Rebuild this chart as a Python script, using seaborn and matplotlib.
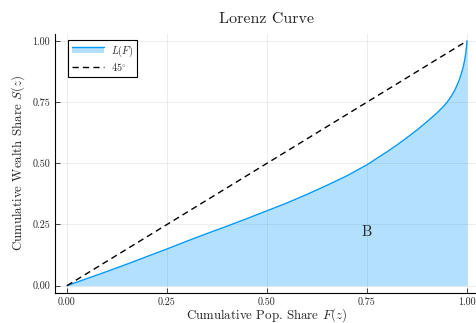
import numpy as np
import pandas as pd
import matplotlib
matplotlib.use("Agg")
import matplotlib.pyplot as plt
import seaborn as sns
from matplotlib.patches import Rectangle
from matplotlib.lines import Line2D
from matplotlib.legend_handler import HandlerBase

# Cumulative population share F(z) and cumulative wealth share S(z)
pop_share = [0.0, 0.05, 0.10, 0.15, 0.20, 0.25, 0.30, 0.35, 0.40, 0.45, 0.50,
             0.55, 0.60, 0.65, 0.70, 0.75, 0.80, 0.825, 0.85, 0.875, 0.90,
             0.925, 0.94, 0.95, 0.96, 0.97, 0.98, 0.985, 0.99, 0.994, 0.997,
             0.999, 1.0]
wealth_share = [0.0, 0.029, 0.058, 0.088, 0.119, 0.150, 0.182, 0.213, 0.243,
                0.274, 0.306, 0.338, 0.373, 0.410, 0.449, 0.494, 0.547, 0.575,
                0.605, 0.636, 0.670, 0.706, 0.730, 0.749, 0.772, 0.800, 0.838,
                0.862, 0.890, 0.920, 0.950, 0.980, 1.0]
diag = [0.0, 1.0]
tick_vals = [0.0, 0.25, 0.50, 0.75, 1.0]
tick_labels = ["0.00", "0.25", "0.50", "0.75", "1.00"]

sns.set_style("white")
plt.rcParams["font.family"] = ["cmr10", "DejaVu Serif"]
plt.rcParams["mathtext.fontset"] = "cm"
plt.rcParams["axes.formatter.use_mathtext"] = True

blue = "#009AFA"
df = pd.DataFrame({"F": pop_share, "S": wealth_share})
dd = pd.DataFrame({"F": diag, "S": diag})

fig = plt.figure(figsize=(4.77, 3.23), dpi=100)
ax = fig.add_axes([55 / 477, (323 - 293.0) / 323, 424 / 477, 259.4 / 323])

ax.fill_between(df["F"], 0, df["S"], color=blue, alpha=0.3, linewidth=0, zorder=2)
sns.lineplot(data=df, x="F", y="S", ax=ax, color=blue, linewidth=1.0,
             sort=False, zorder=3)
sns.lineplot(data=dd, x="F", y="S", ax=ax, color="black", linewidth=1.0,
             linestyle=(0, (4.5, 3)), zorder=3)

ax.text(0.75, 0.22, "B", fontsize=10.5, ha="center", va="center", zorder=4)

ax.set_xlim(-0.03, 1.03)
ax.set_ylim(-0.03, 1.03)
ax.set_xticks(tick_vals)
ax.set_xticklabels(tick_labels)
ax.set_yticks(tick_vals)
ax.set_yticklabels(tick_labels)
ax.tick_params(direction="in", length=3.5, width=0.6, labelsize=7.2, pad=3.5,
               top=False, right=False, left=True, bottom=True)
ax.grid(True, color="black", alpha=0.1, linewidth=0.5)
for s in ["top", "right"]:
    ax.spines[s].set_visible(False)
for s in ["left", "bottom"]:
    ax.spines[s].set_color("black")
    ax.spines[s].set_linewidth(0.8)

ax.set_title("Lorenz Curve", fontsize=11.5, pad=7.5)
ax.set_xlabel(r"Cumulative Pop. Share $F(z)$", fontsize=9.3, labelpad=-1)
ax.set_ylabel(r"Cumulative Wealth Share $S(z)$", fontsize=9.3, labelpad=4)


class FillLineHandler(HandlerBase):
    def create_artists(self, legend, orig_handle, xdescent, ydescent,
                       width, height, fontsize, trans):
        r = Rectangle((-xdescent, -ydescent + height * 0.1), width, height * 0.8,
                      facecolor=blue, alpha=0.3, edgecolor="none",
                      transform=trans)
        ln = Line2D([-xdescent, -xdescent + width],
                    [-ydescent + height * 0.9] * 2, color=blue,
                    linewidth=1.0, transform=trans)
        return [r, ln]


fill_handle = Rectangle((0, 0), 1, 1)
dash_handle = Line2D([0], [0], color="black", linewidth=1.0,
                     linestyle=(0, (4.5, 3)))
leg = ax.legend([fill_handle, dash_handle], [r"$L(F)$", r"$45^{\circ}$"],
                handler_map={Rectangle: FillLineHandler()},
                loc="upper left", bbox_to_anchor=(13 / 424, 1 - 6 / 259.4),
                borderaxespad=0, fontsize=7.3, frameon=True, fancybox=False,
                edgecolor="black", framealpha=1.0,
                handlelength=3.2, labelspacing=0.2, borderpad=0.4,
                handletextpad=0.6)
leg.get_frame().set_linewidth(0.8)

fig.savefig("out.png", dpi=100)
